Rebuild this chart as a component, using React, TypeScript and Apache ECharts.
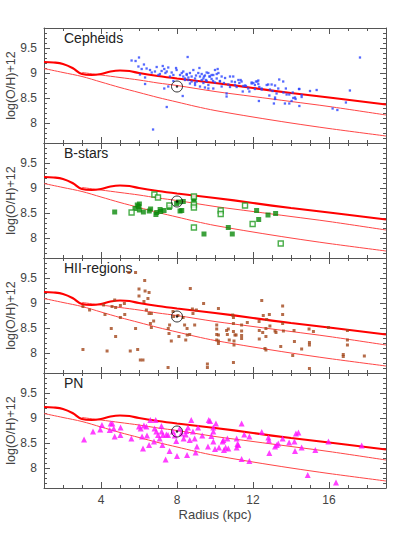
import { useEffect, useRef } from "react";
import * as echarts from "echarts";

// ---- axis ranges & ticks ----
const X_MIN = 1;
const X_MAX = 19;
const Y_MIN = 7.6;
const Y_MAX = 9.9;
const X_MAJOR = [4, 8, 12, 16];
const X_MINOR = [2, 3, 5, 6, 7, 9, 10, 11, 13, 14, 15, 17, 18];
const Y_MAJOR = [8, 8.5, 9, 9.5];
const Y_MINOR = [7.7, 7.8, 7.9, 8.1, 8.2, 8.3, 8.4, 8.6, 8.7, 8.8, 8.9, 9.1, 9.2, 9.3, 9.4, 9.6, 9.7, 9.8];

const PANEL_NAMES = ["Cepheids", "B-stars", "HII-regions", "PN"];
const X_TITLE = "Radius (kpc)";
const Y_TITLE = "log(O/H)+12";

// ---- model curves ----
const thickCurve = [[1, 9.22], [1.5, 9.21], [2, 9.18], [2.5, 9.1], [3, 8.98], [3.5, 8.96], [4, 8.98], [4.5, 9.03], [5, 9.05], [5.5, 9.04], [6, 9.0], [7, 8.94], [8, 8.89], [10, 8.8], [12, 8.7], [14, 8.6], [16, 8.51], [19, 8.37]];
const middleCurve = [[3, 9.01], [4, 8.96], [5, 8.91], [6, 8.86], [7, 8.8], [8, 8.75], [10, 8.63], [12, 8.53], [14, 8.43], [16, 8.33], [19, 8.16]];
const lowerCurve = [[1, 9.09], [2, 9.01], [3, 8.93], [4, 8.82], [5, 8.71], [6, 8.61], [7, 8.51], [8, 8.42], [9, 8.33], [10, 8.25], [12, 8.12], [14, 8.0], [16, 7.89], [19, 7.74]];

const sun = [[8.0, 8.73]];

// ---- data ----
const cepheids = [
  [5.61, 9.25], [5.82, 9.24], [6.0, 9.31], [5.97, 9.13], [6.14, 9.08], [6.4, 9.09], [6.58, 9.06], [6.67, 9.01], [6.05, 8.97], [6.32, 8.91],
  [6.84, 9.03], [7.02, 8.96], [7.19, 9.04], [7.33, 9.08], [7.46, 9.03], [7.54, 9.11], [7.63, 8.93], [7.72, 9.01], [7.81, 8.84], [7.33, 8.69],
  [7.54, 8.73], [7.98, 9.06], [8.16, 8.96], [8.33, 9.03], [8.42, 8.89], [8.51, 8.96], [8.56, 9.32], [8.6, 8.86], [8.68, 9.0], [8.77, 8.93],
  [8.3, 8.54], [7.46, 8.32], [6.74, 7.87], [8.95, 8.89], [9.04, 8.83], [9.12, 9.0], [9.21, 8.93], [9.3, 8.86], [9.39, 8.89], [9.47, 8.95],
  [9.56, 8.84], [9.65, 9.0], [9.74, 8.93], [9.82, 8.88], [9.91, 8.96], [10.0, 8.81], [10.09, 8.89], [10.18, 9.0], [10.26, 8.84], [10.35, 8.93],
  [10.14, 9.08], [9.47, 8.71], [9.65, 8.69], [9.91, 8.69], [10.61, 8.59], [10.79, 8.93], [10.88, 8.83], [11.05, 8.76], [11.23, 8.86], [11.4, 8.83],
  [11.58, 8.75], [11.75, 8.69], [11.93, 8.79], [8.95, 8.76], [9.21, 8.73], [8.68, 8.79], [10.35, 8.73], [10.7, 8.77], [11.93, 8.81], [12.1, 8.76],
  [12.1, 8.68], [12.16, 8.83], [12.28, 8.85], [12.28, 8.78], [12.31, 8.44], [12.45, 8.69], [12.8, 8.77], [12.89, 8.67], [12.86, 8.55], [12.98, 8.77],
  [13.03, 8.64], [13.16, 8.75], [13.16, 8.48], [13.1, 8.39], [13.24, 8.59], [13.33, 8.69], [13.38, 8.87], [13.59, 8.83], [13.73, 8.69], [13.68, 8.39],
  [13.91, 8.57], [13.91, 8.39], [14.03, 8.44], [14.09, 8.61], [14.21, 8.51], [14.24, 8.48], [14.44, 8.68], [14.44, 8.34], [14.56, 8.52], [15.0, 8.64],
  [15.35, 8.66], [16.19, 8.29], [16.44, 8.26], [16.89, 8.41], [17.1, 8.65], [17.63, 9.31], [8.86, 9.06], [9.18, 9.1], [9.42, 8.93], [9.56, 9.01],
  [9.65, 8.76], [9.82, 8.96], [10.0, 9.06], [10.47, 8.8], [10.61, 8.53], [10.79, 8.72], [10.96, 8.93], [11.14, 8.72], [11.35, 8.86], [11.46, 8.63],
  [11.63, 8.74], [11.81, 8.63], [12.23, 8.83], [12.33, 8.72], [12.72, 8.76], [13.6, 8.61], [14.42, 8.68], [6.26, 9.17], [6.93, 9.12], [7.1, 8.98],
  [7.25, 9.14], [7.39, 9.0], [7.81, 8.96], [7.95, 9.1], [8.25, 9.0], [8.33, 8.93], [8.42, 8.86], [8.51, 8.98], [8.77, 8.83], [8.95, 8.8],
  [9.39, 8.8], [9.53, 8.86], [9.7, 8.93], [10.09, 8.98], [10.26, 8.83], [10.53, 8.9], [11.05, 8.82], [11.28, 8.8], [11.49, 8.74], [12.02, 8.8],
  [12.46, 8.67], [13.16, 8.51], [13.77, 8.57], [14.12, 8.5], [14.56, 8.56], [6.32, 8.78], [8.6, 8.91], [9.0, 8.95], [9.3, 8.98], [9.9, 8.84],
];

const bStarsFilled = [
  [4.72, 8.52], [5.79, 8.59], [5.91, 8.66], [6.02, 8.68], [5.98, 8.63], [6.02, 8.56], [6.23, 8.52], [6.54, 8.54], [6.61, 8.58], [6.89, 8.47],
  [6.93, 8.51], [7.11, 8.57], [7.14, 8.53], [7.32, 8.55], [7.6, 8.61], [7.98, 8.69], [8.09, 8.72], [8.16, 8.54], [8.25, 8.55], [8.33, 8.73],
  [8.89, 8.79], [8.89, 8.73], [9.42, 8.08], [10.7, 8.21], [10.91, 8.08], [12.19, 8.55], [12.3, 8.37], [12.79, 8.46], [13.19, 8.49],
];
const bStarsOpen = [
  [5.61, 8.51], [6.81, 8.87], [7.0, 8.81], [7.6, 8.65], [8.89, 8.83], [8.89, 8.67], [8.89, 8.61], [8.89, 8.21], [10.3, 8.55], [10.3, 8.48],
  [11.58, 8.65], [11.98, 8.28], [13.46, 7.89],
];

const hiiRegions = [
  [3.05, 8.07], [3.05, 8.93], [3.4, 8.86], [4.14, 8.96], [4.21, 8.77], [4.32, 8.04], [4.54, 8.49], [4.58, 8.93], [4.72, 9.06], [4.77, 8.91],
  [4.77, 8.33], [5.02, 8.71], [5.02, 8.95], [5.25, 8.77], [5.23, 8.99], [5.54, 8.04], [5.47, 9.61], [5.82, 9.61], [5.82, 8.49], [5.93, 8.07],
  [6.0, 9.28], [6.0, 9.14], [6.07, 7.86], [6.21, 7.86], [6.3, 9.45], [6.32, 9.24], [6.26, 9.03], [6.39, 8.86], [6.47, 9.09], [6.53, 8.79],
  [6.6, 8.59], [6.65, 8.51], [6.53, 9.21], [6.65, 8.79], [6.77, 8.64], [7.54, 8.49], [7.61, 8.56], [7.58, 8.39], [7.7, 8.24], [7.79, 8.83],
  [7.82, 8.73], [8.05, 8.75], [8.1, 8.33], [8.32, 8.71], [8.4, 8.56], [8.46, 8.26], [8.53, 8.49], [8.54, 8.36], [8.67, 8.37], [8.7, 9.29],
  [8.81, 8.88], [8.84, 8.79], [8.93, 8.56], [9.02, 8.86], [9.4, 8.99], [7.53, 7.71], [9.6, 7.78], [9.6, 7.71],
  [10.18, 8.89], [10.09, 8.56], [10.09, 8.48], [10.09, 8.37], [10.09, 8.26], [10.18, 8.24], [10.18, 8.19], [10.18, 8.36], [10.61, 8.45], [10.65, 8.37],
  [10.7, 8.48], [10.75, 8.26], [10.93, 8.76], [10.97, 8.71], [10.97, 8.59], [10.97, 8.43], [11.05, 8.36], [11.0, 8.24], [11.0, 8.16], [10.97, 7.81],
  [11.11, 8.36], [11.4, 8.56], [11.4, 8.44], [11.4, 8.35], [11.4, 8.29], [11.7, 8.61], [12.32, 8.63], [12.33, 8.45], [12.33, 8.28], [12.46, 9.05],
  [12.51, 8.41], [12.54, 8.75], [12.63, 8.09], [12.68, 8.49], [12.68, 8.33], [12.68, 8.06], [12.72, 8.67], [12.86, 8.77], [12.89, 8.54], [13.16, 8.44],
  [13.21, 8.41], [13.46, 8.13], [13.56, 8.94], [13.56, 8.77], [13.56, 8.59], [13.6, 8.44], [14.09, 7.95], [14.16, 8.45], [14.18, 8.23], [14.56, 8.08],
  [14.95, 8.48], [14.97, 8.21], [14.97, 8.16], [14.97, 7.69], [15.18, 8.43], [15.97, 8.51], [16.75, 7.97], [16.75, 7.93], [16.97, 8.45], [16.97, 8.26],
  [16.97, 8.16], [17.86, 7.94],
];

const planetaryNebulae = [
  [3.11, 8.57], [3.58, 8.73], [3.96, 8.77], [4.05, 8.86], [4.46, 8.76], [4.51, 8.89], [4.6, 8.89], [4.67, 8.79], [4.72, 8.63], [5.02, 8.66],
  [5.03, 8.81], [5.6, 8.59], [6.0, 8.83], [6.09, 8.79], [6.16, 8.63], [6.21, 8.39], [6.26, 8.85], [6.39, 8.83], [6.42, 8.65], [6.53, 8.46],
  [6.6, 8.96], [6.79, 8.53], [6.82, 8.79], [6.88, 8.96], [6.91, 8.73], [7.0, 8.66], [7.09, 8.59], [7.18, 8.84], [7.19, 8.73], [7.23, 8.46],
  [7.26, 8.66], [7.4, 8.17], [7.44, 8.67], [7.53, 8.66], [7.61, 8.34], [7.79, 8.73], [7.88, 8.65], [7.96, 8.54], [8.0, 8.24], [8.14, 8.79],
  [8.23, 8.69], [8.35, 8.59], [8.46, 8.67], [8.49, 8.74], [8.53, 8.26], [8.58, 8.81], [8.67, 8.56], [8.75, 8.96], [8.84, 8.73], [8.93, 8.59],
  [8.98, 8.31], [9.05, 8.43], [9.11, 8.81], [9.33, 8.65], [9.63, 8.43], [9.67, 8.96], [9.81, 8.64],
  [9.74, 8.94], [9.91, 8.81], [9.91, 8.73], [9.91, 8.53], [10.05, 8.89], [10.0, 8.38], [10.21, 8.41], [10.4, 8.53], [10.44, 8.56], [10.47, 8.36],
  [10.56, 8.41], [10.65, 8.59], [10.7, 8.39], [11.14, 8.59], [11.14, 8.41], [11.18, 8.48], [11.23, 8.46], [11.4, 8.89], [11.4, 8.18], [11.54, 8.67],
  [11.81, 8.63], [11.81, 8.14], [12.46, 8.72], [12.81, 8.61], [12.84, 8.55], [12.86, 8.3], [13.16, 8.43], [13.25, 8.46], [13.33, 8.49], [13.56, 8.59],
  [13.9, 8.51], [14.18, 8.53], [14.21, 8.34], [14.26, 8.69], [14.39, 8.71], [14.56, 8.41], [14.88, 7.86], [15.28, 8.36], [15.97, 8.53], [16.37, 7.71],
  [17.72, 8.45],
];

// ---- layout / style ----
const GRID_LEFT = 44;
const GRID_RIGHT = 21;
const GRID_TOP = 28;
const GRID_H = 115;
const AXIS_COLOR = "#555";
const TEXT_COLOR = "#444";
const FONT = "Liberation Sans, Arial, sans-serif";

function buildOption() {
  const n = PANEL_NAMES.length;
  const grid: any[] = [];
  const xAxis: any[] = [];
  const yAxis: any[] = [];
  const series: any[] = [];
  const graphic: any[] = [];

  for (let i = 0; i < n; i++) {
    grid.push({
      left: GRID_LEFT, right: GRID_RIGHT, top: GRID_TOP + GRID_H * i, height: GRID_H,
      containLabel: false, outerBoundsMode: "none",
    });
    const last = i === n - 1;
    const baseX = {
      type: "value", gridIndex: i, min: X_MIN, max: X_MAX,
      splitLine: { show: false }, axisLabel: { show: false },
    };
    const baseY = {
      type: "value", gridIndex: i, min: Y_MIN, max: Y_MAX,
      splitLine: { show: false }, axisLabel: { show: false },
    };
    const line = { show: true, onZero: false, lineStyle: { color: AXIS_COLOR, width: 1 } };
    const noLine = { show: false, onZero: false };
    const tick = (vals: number[], len: number) => ({
      show: true, inside: true, length: len, customValues: vals, lineStyle: { color: AXIS_COLOR, width: 1 },
    });

    // x axes: bottom major (main), bottom minor, top major, top minor
    xAxis.push({
      ...baseX, position: "bottom", axisLine: line, axisTick: tick(X_MAJOR, 6),
      axisLabel: last
        ? { show: true, customValues: X_MAJOR, margin: 6, fontSize: 12, color: TEXT_COLOR, fontFamily: FONT }
        : { show: false },
      name: last ? X_TITLE : "",
      nameLocation: "middle", nameGap: 20, nameMoveOverlap: false,
      nameTextStyle: { fontSize: 13, color: TEXT_COLOR, fontFamily: FONT },
    });
    xAxis.push({ ...baseX, position: "bottom", axisLine: noLine, axisTick: tick(X_MINOR, 3) });
    xAxis.push({ ...baseX, position: "top", axisLine: line, axisTick: tick(X_MAJOR, 6) });
    xAxis.push({ ...baseX, position: "top", axisLine: noLine, axisTick: tick(X_MINOR, 3) });

    // y axes: left major (main), left minor, right major, right minor
    yAxis.push({
      ...baseY, position: "left", axisLine: line, axisTick: tick(Y_MAJOR, 6),
      axisLabel: { show: true, customValues: Y_MAJOR, margin: 7, fontSize: 12, color: TEXT_COLOR, fontFamily: FONT },
      name: Y_TITLE, nameLocation: "middle", nameGap: 27, nameRotate: 90, nameMoveOverlap: false,
      nameTextStyle: { fontSize: 12.5, color: TEXT_COLOR, fontFamily: FONT },
    });
    yAxis.push({ ...baseY, position: "left", axisLine: noLine, axisTick: tick(Y_MINOR, 3) });
    yAxis.push({ ...baseY, position: "right", axisLine: line, axisTick: tick(Y_MAJOR, 6) });
    yAxis.push({ ...baseY, position: "right", axisLine: noLine, axisTick: tick(Y_MINOR, 3) });

    const ax = { xAxisIndex: 4 * i, yAxisIndex: 4 * i };

    // data points
    if (i === 0) {
      series.push({ type: "scatter", ...ax, data: cepheids, symbol: "rect", symbolSize: 2.3, itemStyle: { color: "#2a44ff" }, z: 3 });
    } else if (i === 1) {
      series.push({ type: "scatter", ...ax, data: bStarsFilled, symbol: "rect", symbolSize: 5, itemStyle: { color: "#0b8a0b" }, z: 3 });
      series.push({
        type: "scatter", ...ax, data: bStarsOpen, symbol: "rect", symbolSize: 5,
        itemStyle: { color: "#ffffff", borderColor: "#1d9a1d", borderWidth: 1.4 }, z: 3,
      });
    } else if (i === 2) {
      series.push({ type: "scatter", ...ax, data: hiiRegions, symbol: "rect", symbolSize: 3, itemStyle: { color: "#a3471c" }, z: 3 });
    } else {
      series.push({ type: "scatter", ...ax, data: planetaryNebulae, symbol: "triangle", symbolSize: 6, itemStyle: { color: "#ff10ff" }, z: 3 });
    }

    // model curves
    series.push({
      type: "line", ...ax, data: lowerCurve, symbol: "none", smooth: 0.3,
      lineStyle: { color: "#ff4646", width: 1 }, z: 2,
    });
    series.push({
      type: "line", ...ax, data: middleCurve, symbol: "none", smooth: 0.3,
      lineStyle: { color: "#ff4646", width: 1 }, z: 2,
    });
    series.push({
      type: "line", ...ax, data: thickCurve, symbol: "none", smooth: 0.4,
      lineStyle: { color: "#ff0000", width: 2.2 }, z: 2,
    });

    // Sun
    series.push({
      type: "scatter", ...ax, data: sun, symbol: "circle", symbolSize: 11,
      itemStyle: { color: "none", borderColor: "#000", borderWidth: 1 }, z: 4,
    });
    series.push({
      type: "scatter", ...ax, data: sun, symbol: "circle", symbolSize: 2.5,
      itemStyle: { color: "#000" }, z: 4,
    });

    graphic.push({
      type: "text", left: 64, top: GRID_TOP + GRID_H * i + 3,
      style: { text: PANEL_NAMES[i], fontSize: 14, fill: "#222", fontFamily: FONT },
    });
  }

  return {
    animation: false,
    backgroundColor: "#ffffff",
    grid, xAxis, yAxis, series, graphic,
  };
}

export default function App() {
  const ref = useRef<HTMLDivElement>(null);
  useEffect(() => {
    document.body.style.margin = "0";
    const chart = echarts.init(ref.current!, null, { renderer: "svg" });
    chart.setOption(buildOption() as any);
    return () => chart.dispose();
  }, []);
  return <div ref={ref} style={{ width: 407, height: 542 }} />;
}
